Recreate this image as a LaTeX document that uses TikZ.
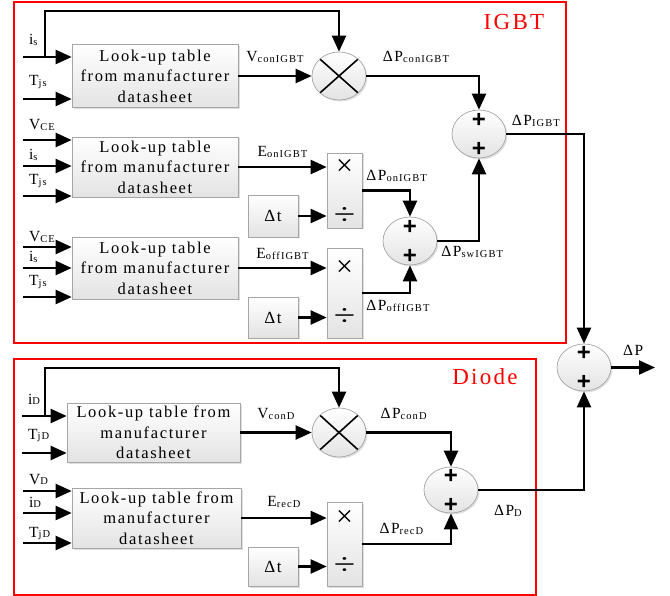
\documentclass[tikz,border=0pt]{standalone}
\usepackage{fontspec}
\setmainfont[LetterSpace=10]{Liberation Serif}
\newfontfamily\plusfont{Liberation Sans}
\usetikzlibrary{positioning, arrows.meta, calc, shapes.geometric, shadows}

\newcommand{\lo}[1]{\raisebox{-0.8pt}{\fontsize{10.5}{11}\selectfont #1}}

\begin{document}
\begin{tikzpicture}[x=1pt, y=-1pt, >={Triangle[length=16pt, width=14pt]},
  sig/.style={line width=2.2pt},
  frame/.style={draw=red, line width=1.2pt},
  fillgray/.style={draw=gray!70, line width=0.7pt, top color=white, bottom color=gray!22,
    drop shadow={shadow xshift=1.5pt, shadow yshift=-1.5pt, opacity=0.25}},
  lut/.style={fillgray, rectangle, align=center, inner sep=0pt,
    font=\fontsize{16.5}{20.5}\selectfont},
  dtbox/.style={fillgray, rectangle, minimum width=50pt, inner sep=0pt,
    font=\fontsize{17}{17}\selectfont},
  mdbox/.style={fillgray, rectangle, minimum width=35pt, inner sep=0pt},
  opsym/.style={inner sep=0pt, font=\fontsize{30}{30}\selectfont},
  mulnode/.style={fillgray, ellipse, minimum width=54pt, minimum height=48pt, inner sep=0pt,
    path picture={\draw[black, line width=1.6pt]
      (path picture bounding box.north west) -- (path picture bounding box.south east)
      (path picture bounding box.north east) -- (path picture bounding box.south west);}},
  sumnode/.style={fillgray, ellipse, minimum width=54pt, minimum height=48pt, inner sep=0pt,
    path picture={
      \node[text=black, font=\plusfont\bfseries\fontsize{24}{24}\selectfont] at ([yshift=14pt]path picture bounding box.center) {+};
      \node[text=black, font=\plusfont\bfseries\fontsize{24}{24}\selectfont] at ([yshift=-15pt]path picture bounding box.center) {+};}},
  lbl/.style={inner sep=0pt, font=\fontsize{15.5}{16}\selectfont},
  inlbl/.style={lbl, anchor=base west, xshift=5pt, yshift=#1},
  inlbl/.default=11pt,
  title/.style={text=red, inner sep=0pt, font=\fontsize{23}{23}\selectfont}]

\useasboundingbox (0,0) rectangle (670,596);

% frames
\draw[frame] (14,2) rectangle (566,343);
\draw[frame] (14,359) rectangle (536,595);
\node[title] (tIGBT) at (514,22.5) {IGBT};
\node[title] (tDiode) at (485,377) {Diode};

% IGBT conduction loss
\node[lut, minimum width=166pt, minimum height=63pt] (lutCon) at (155,76) {Look-up table\\from manufacturer\\datasheet};
\node[mulnode] (mulCon) at (339,76) {};
\node[sumnode] (sumIGBT) at (479,134) {};
\coordinate (inCon1) at (23,57);
\coordinate (inCon2) at (23,99);
\coordinate (tapCon) at (45,57);
\draw[sig,->] (inCon1) node[inlbl=12pt] {i\lo{s}} -- (inCon1 -| lutCon.west);
\draw[sig,->] (inCon2) node[inlbl=13pt] {T\lo{js}} -- (inCon2 -| lutCon.west);
\draw[sig,->] (tapCon) -- ++(0,-46) -| (mulCon.north);
\draw[sig,->] (lutCon.east) -- node[lbl, above=12pt] {V\lo{conIGBT}} (mulCon.west);
\draw[sig,->] (mulCon.east) -| node[lbl, pos=0.22, above=12pt] {ΔP\lo{conIGBT}} (sumIGBT.north);

% IGBT turn-on loss
\node[lut, minimum width=166pt, minimum height=60pt] (lutOn) at (155,167) {Look-up table\\from manufacturer\\datasheet};
\node[mdbox, minimum height=75pt] (divOn) at (344.5,190.5) {};
\node[dtbox, minimum height=42pt] (dtOn) at (273,216) {Δt};
\node[sumnode] (sumSw) at (410,241) {};
\coordinate (inOn1) at (23,140);
\coordinate (inOn2) at (23,166);
\coordinate (inOn3) at (23,196);
\draw[sig,->] (inOn1) node[inlbl=10pt] {V\lo{CE}} -- (inOn1 -| lutOn.west);
\draw[sig,->] (inOn2) node[inlbl=6pt] {i\lo{s}} -- (inOn2 -| lutOn.west);
\draw[sig,->] (inOn3) node[inlbl] {T\lo{js}} -- (inOn3 -| lutOn.west);
\draw[sig,->] (lutOn.east) -- node[lbl, above=8pt] {E\lo{onIGBT}} (lutOn.east -| divOn.west);
\draw[sig,->] (dtOn) -- (dtOn -| divOn.west);
\node[opsym] (xOn) at (divOn.center |- lutOn.east) {×};
\node[opsym] (dOn) at (divOn.center |- dtOn) {\scalebox{1.3}[1]{÷}};
\draw[sig,->] (divOn.east) -| node[lbl, pos=0, anchor=south west, xshift=3pt, yshift=8pt] {ΔP\lo{onIGBT}} (sumSw.north);

% IGBT turn-off loss
\node[lut, minimum width=166pt, minimum height=62pt] (lutOff) at (155,268) {Look-up table\\from manufacturer\\datasheet};
\node[mdbox, minimum height=90pt] (divOff) at (344.5,293) {};
\node[dtbox, minimum height=41pt] (dtOff) at (273,317.5) {Δt};
\coordinate (inOff1) at (23,247);
\coordinate (inOff2) at (23,268);
\coordinate (inOff3) at (23,297);
\draw[sig,->] (inOff1) node[inlbl=5pt] {V\lo{CE}} -- (inOff1 -| lutOff.west);
\draw[sig,->] (inOff2) node[inlbl=6pt] {i\lo{s}} -- (inOff2 -| lutOff.west);
\draw[sig,->] (inOff3) node[inlbl] {T\lo{js}} -- (inOff3 -| lutOff.west);
\draw[sig,->] (lutOff.east) -- node[lbl, above=7pt] {E\lo{offIGBT}} (lutOff.east -| divOff.west);
\draw[sig,->] (dtOff) -- (dtOff -| divOff.west);
\node[opsym] (xOff) at (divOff.center |- lutOff.east) {×};
\node[opsym] (dOff) at (divOff.center |- dtOff) {\scalebox{1.3}[1]{÷}};
\draw[sig,->] (divOff.east) -| node[lbl, pos=0, anchor=north west, xshift=3pt, yshift=-6pt] {ΔP\lo{offIGBT}} (sumSw.south);
\draw[sig,->] (sumSw.east) -| node[lbl, pos=0, anchor=north west, xshift=3pt, yshift=-4pt] {ΔP\lo{swIGBT}} (sumIGBT.south);

% total
\node[sumnode, minimum height=47pt] (sumP) at (584,367.5) {};
\coordinate (outP) at (655,367.5);
\draw[sig,->] (sumIGBT.east) -| node[lbl, pos=0.19, above=6pt] {ΔP\lo{IGBT}} (sumP.north);
\draw[sig,->] (sumP.east) -- node[lbl, above=11pt] {ΔP} (outP);

% diode conduction loss
\node[lut, minimum width=173pt, minimum height=59pt] (lutConD) at (153.5,432.5) {Look-up table from\\manufacturer\\datasheet};
\node[mulnode, minimum height=49pt] (mulConD) at (339,432.5) {};
\node[sumnode, minimum height=46pt] (sumD) at (451,490) {};
\coordinate (inConD1) at (22,416);
\coordinate (inConD2) at (22,453);
\coordinate (tapConD) at (45,416);
\draw[sig,->] (inConD1) node[inlbl=12pt] {i\lo{D}} -- (inConD1 -| lutConD.west);
\draw[sig,->] (inConD2) node[inlbl=14pt] {T\lo{jD}} -- (inConD2 -| lutConD.west);
\draw[sig,->] (tapConD) -- ++(0,-48) -| (mulConD.north);
\draw[sig,->] (lutConD.east) -- node[lbl, above=12pt] {V\lo{conD}} (mulConD.west);
\draw[sig,->] (mulConD.east) -| node[lbl, pos=0.22, above=12pt] {ΔP\lo{conD}} (sumD.north);

% diode reverse recovery loss
\node[lut, minimum width=169pt, minimum height=60pt] (lutRec) at (156.5,518) {Look-up table from\\manufacturer\\datasheet};
\node[mdbox, minimum height=84pt] (divRec) at (344.5,544) {};
\node[dtbox, minimum height=39pt] (dtRec) at (273,566.5) {Δt};
\coordinate (inRec1) at (23,491);
\coordinate (inRec2) at (23,513);
\coordinate (inRec3) at (23,543);
\draw[sig,->] (inRec1) node[inlbl=7pt] {V\lo{D}} -- (inRec1 -| lutRec.west);
\draw[sig,->] (inRec2) node[inlbl=6pt] {i\lo{D}} -- (inRec2 -| lutRec.west);
\draw[sig,->] (inRec3) node[inlbl=6pt] {T\lo{jD}} -- (inRec3 -| lutRec.west);
\draw[sig,->] (lutRec.east) -- node[lbl, above=9pt] {E\lo{recD}} (lutRec.east -| divRec.west);
\draw[sig,->] (dtRec) -- (dtRec -| divRec.west);
\node[opsym] (xRec) at (divRec.center |- lutRec.east) {×};
\node[opsym] (dRec) at (divRec.center |- dtRec) {\scalebox{1.3}[1]{÷}};
\draw[sig,->] (divRec.east) -| node[lbl, pos=0.22, above=8pt] {ΔP\lo{recD}} (sumD.south);
\draw[sig,->] (sumD.east) -| node[lbl, pos=0.14, below=14pt] {ΔP\lo{D}} (sumP.south);
\end{tikzpicture}
\end{document}
